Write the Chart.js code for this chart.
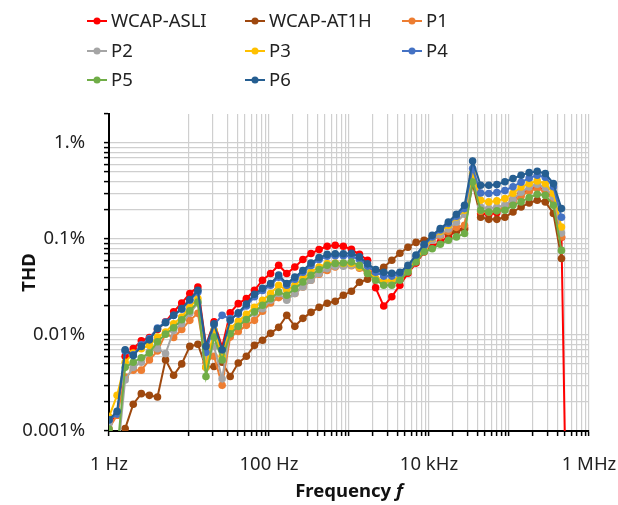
<!DOCTYPE html>
<html>
<head>
<meta charset="utf-8">
<script src="https://cdn.jsdelivr.net/npm/chart.js@4.4.1/dist/chart.umd.min.js"></script>
<style>
  html, body { margin: 0; padding: 0; background: #fff; }
  #wrap { width: 618px; height: 505px; position: relative; }
</style>
</head>
<body>
<div id="wrap"><canvas id="thdChart"></canvas></div>
<script>
// Measurement frequencies (Hz)
const freqs = [1, 1.262, 1.592, 2.009, 2.535, 3.199, 4.036, 5.093, 6.427, 8.110,
  10.23, 12.91, 16.29, 20.56, 25.94, 32.73, 41.30, 52.12, 65.77, 82.99,
  104.7, 132.1, 166.7, 210.4, 265.5, 335.0, 422.7, 533.3, 673.0, 849.2,
  1072, 1352, 1706, 2153, 2716, 3428, 4325, 5458, 6887, 8690,
  10965, 13836, 17458, 22029, 27797, 35075, 44259, 55847, 70469, 88920,
  112202, 141579, 178649, 225424, 284446, 358922, 452898, 571479];

// THD values in %
const wcapAsli = [0.00123, 0.00146, 0.0060, 0.0072, 0.0087, 0.0094, 0.0114, 0.0137, 0.0174, 0.0215,
  0.027, 0.0316, 0.0078, 0.0137, 0.0075, 0.0170, 0.0212, 0.0239, 0.0292, 0.0372,
  0.0436, 0.0532, 0.0436, 0.0511, 0.061, 0.0705, 0.0776, 0.0839, 0.086, 0.084,
  0.078, 0.069, 0.060, 0.031, 0.020, 0.025, 0.033, 0.044, 0.056, 0.073,
  0.083, 0.093, 0.105, 0.123, 0.131, 0.425, 0.184, 0.18, 0.187, 0.214,
  0.257, 0.297, 0.322, 0.348, 0.322, 0.257, 0.104, 0.000001];
const wcapAt1h = [0.0004, 0.0006, 0.00106, 0.0019, 0.00245, 0.00235, 0.00226, 0.0055, 0.0038, 0.0050,
  0.0076, 0.0080, 0.0046, 0.0047, 0.0052, 0.0037, 0.0051, 0.006, 0.0078, 0.0088,
  0.0104, 0.012, 0.016, 0.0123, 0.0149, 0.0172, 0.0194, 0.0214, 0.0224, 0.0259,
  0.0285, 0.0354, 0.038, 0.045, 0.0507, 0.060, 0.071, 0.082, 0.092, 0.097,
  0.104, 0.109, 0.115, 0.12, 0.126, 0.38, 0.168, 0.16, 0.16, 0.168,
  0.191, 0.215, 0.237, 0.253, 0.243, 0.184, 0.0625];
const p1 = [0.00106, 0.00146, 0.00365, 0.0043, 0.0043, 0.0055, 0.0068, 0.0103, 0.0094, 0.0114,
  0.0142, 0.0168, 0.0052, 0.006, 0.003, 0.0095, 0.0109, 0.0126, 0.0142, 0.0177,
  0.0215, 0.0245, 0.0239, 0.027, 0.0316, 0.0372, 0.0429, 0.047, 0.0511, 0.0532,
  0.0525, 0.0495, 0.044, 0.038, 0.0354, 0.0358, 0.039, 0.046, 0.060, 0.0763,
  0.097, 0.107, 0.12, 0.132, 0.139, 0.46, 0.194, 0.19, 0.199, 0.214,
  0.241, 0.279, 0.314, 0.337, 0.314, 0.253, 0.105];
const p2 = [0.0012, 0.0005, 0.0034, 0.0046, 0.0052, 0.0067, 0.0072, 0.0064, 0.0111, 0.0131,
  0.0168, 0.0215, 0.0059, 0.0076, 0.0035, 0.0111, 0.0129, 0.0148, 0.0169, 0.0188,
  0.023, 0.027, 0.023, 0.027, 0.0316, 0.0372, 0.0436, 0.0491, 0.0519, 0.0519,
  0.0532, 0.0507, 0.045, 0.0386, 0.0358, 0.036, 0.039, 0.046, 0.059, 0.0763,
  0.097, 0.111, 0.127, 0.149, 0.181, 0.45, 0.215, 0.207, 0.215, 0.224,
  0.259, 0.306, 0.348, 0.372, 0.343, 0.274, 0.115];
const p3 = [0.0014, 0.00235, 0.0052, 0.0065, 0.0072, 0.0078, 0.0095, 0.0107, 0.0131, 0.0154,
  0.0196, 0.0239, 0.0046, 0.0112, 0.0060, 0.0117, 0.0139, 0.0164, 0.0194, 0.023,
  0.027, 0.033, 0.0292, 0.033, 0.0386, 0.0453, 0.0511, 0.0554, 0.0562, 0.0554,
  0.0554, 0.0511, 0.0453, 0.0386, 0.0365, 0.0372, 0.040, 0.047, 0.060, 0.079,
  0.103, 0.12, 0.139, 0.169, 0.199, 0.48, 0.253, 0.243, 0.249, 0.263,
  0.299, 0.348, 0.377, 0.402, 0.377, 0.297, 0.133];
const p4 = [0.0013, 0.0015, 0.0068, 0.0062, 0.0079, 0.0092, 0.0118, 0.0136, 0.0160, 0.0185,
  0.023, 0.028, 0.0066, 0.0128, 0.016, 0.0148, 0.0165, 0.020, 0.025, 0.029,
  0.033, 0.040, 0.033, 0.038, 0.045, 0.053, 0.061, 0.066, 0.067, 0.067,
  0.066, 0.061, 0.052, 0.045, 0.041, 0.041, 0.043, 0.051, 0.066, 0.085,
  0.105, 0.124, 0.145, 0.172, 0.207, 0.54, 0.301, 0.297, 0.305, 0.32,
  0.35, 0.39, 0.43, 0.46, 0.44, 0.35, 0.168];
const p5 = [0.00105, 0.0006, 0.0046, 0.0052, 0.0058, 0.0065, 0.0085, 0.0102, 0.0119, 0.0144,
  0.0178, 0.022, 0.0037, 0.0095, 0.0055, 0.0103, 0.0123, 0.0145, 0.0174, 0.0204,
  0.0239, 0.028, 0.0259, 0.0304, 0.0357, 0.0419, 0.048, 0.0532, 0.0554, 0.0562,
  0.0576, 0.0532, 0.0436, 0.0372, 0.033, 0.033, 0.0372, 0.0453, 0.0576, 0.0735,
  0.079, 0.088, 0.097, 0.105, 0.114, 0.392, 0.199, 0.191, 0.196, 0.199,
  0.224, 0.243, 0.27, 0.292, 0.285, 0.224, 0.076];
const p6 = [0.00131, 0.0016, 0.0070, 0.0061, 0.0076, 0.0089, 0.0116, 0.0134, 0.016, 0.0188,
  0.0234, 0.0292, 0.0076, 0.0131, 0.0070, 0.0142, 0.017, 0.021, 0.0265, 0.0306,
  0.0343, 0.042, 0.0343, 0.040, 0.047, 0.056, 0.064, 0.069, 0.070, 0.070,
  0.071, 0.065, 0.055, 0.048, 0.045, 0.044, 0.045, 0.053, 0.068, 0.088,
  0.109, 0.128, 0.15, 0.181, 0.224, 0.649, 0.362, 0.362, 0.368, 0.394,
  0.425, 0.46, 0.49, 0.507, 0.48, 0.377, 0.207];

const seriesNames = ['WCAP-ASLI', 'WCAP-AT1H', 'P1', 'P2', 'P3', 'P4', 'P5', 'P6'];
const seriesValues = [wcapAsli, wcapAt1h, p1, p2, p3, p4, p5, p6];
const seriesColors = ['#ff0000', '#9e480e', '#ed7d31', '#a5a5a5', '#ffc000', '#4472c4', '#70ad47', '#255e91'];

// labelled ticks
const xTickValues = [1, 100, 10000, 1000000];
const xTickLabels = ['1 Hz', '100 Hz', '10 kHz', '1 MHz'];
const yTickValues = [0.001, 0.01, 0.1, 1];
const yTickLabels = ['0.001%', '0.01%', '0.1%', '1.%'];

const FONT = "'Noto Sans', 'DejaVu Sans', sans-serif";

function sameLog(a, b) {
    return Math.abs(Math.log10(a) - Math.log10(b)) < 1e-6;
}

function labelFor(v, values, labels) {
    const i = values.findIndex(t => sameLog(t, v));
    return i >= 0 ? labels[i] : '';
}

// gridline positions: 1..9 x 10^e
function logSteps(fromExp, toExp) {
    const out = [];
    for (let e = fromExp; e <= toExp; e++) {
        for (let d = 1; d <= 9; d++) {
            out.push(parseFloat((d * Math.pow(10, e)).toPrecision(6)));
        }
    }
    return out;
}

const xGrid = [1].concat(logSteps(1, 5), [1000000]);
const yGrid = logSteps(-3, -1).concat([1, 2]);

// custom legend (3 columns) and axis titles
const decorPlugin = {
    id: 'decor',
    afterDraw(chart) {
        const ctx = chart.ctx;
        const colX = [87, 245, 402];
        const rowY = [21, 51, 80];
        ctx.save();
        chart.data.datasets.forEach((ds, i) => {
            const x = colX[i % 3];
            const y = rowY[Math.floor(i / 3)];
            ctx.strokeStyle = ds.borderColor;
            ctx.lineWidth = 2;
            ctx.beginPath();
            ctx.moveTo(x, y);
            ctx.lineTo(x + 20, y);
            ctx.stroke();
            ctx.fillStyle = ds.borderColor;
            ctx.beginPath();
            ctx.arc(x + 10, y, 3.5, 0, Math.PI * 2);
            ctx.fill();
            ctx.fillStyle = '#222';
            ctx.font = '18.5px ' + FONT;
            ctx.textBaseline = 'middle';
            ctx.textAlign = 'left';
            ctx.fillText(ds.label, x + 24, y + 1);
        });

        const area = chart.chartArea;
        // y title
        ctx.save();
        ctx.translate(30, (area.top + area.bottom) / 2);
        ctx.rotate(-Math.PI / 2);
        ctx.font = 'bold 18.5px ' + FONT;
        ctx.fillStyle = '#111';
        ctx.textAlign = 'center';
        ctx.textBaseline = 'middle';
        ctx.fillText('THD', 0, 0);
        ctx.restore();

        // x title with italic f
        const cx = (area.left + area.right) / 2;
        const ty = 492;
        ctx.font = 'bold 18.5px ' + FONT;
        const w1 = ctx.measureText('Frequency ').width;
        ctx.font = 'italic bold 18.5px ' + FONT;
        const w2 = ctx.measureText('f').width;
        const sx = cx - (w1 + w2) / 2;
        ctx.fillStyle = '#111';
        ctx.textAlign = 'left';
        ctx.textBaseline = 'middle';
        ctx.font = 'bold 18.5px ' + FONT;
        ctx.fillText('Frequency ', sx, ty);
        ctx.font = 'italic bold 18.5px ' + FONT;
        ctx.fillText('f', sx + w1, ty);
        ctx.restore();
    }
};

const datasets = seriesNames.map((name, i) => ({
    label: name,
    data: seriesValues[i].map((v, k) => ({ x: freqs[k], y: v })),
    borderColor: seriesColors[i],
    backgroundColor: seriesColors[i],
    borderWidth: 2,
    pointRadius: 3.8,
    pointBorderWidth: 0,
    pointHoverRadius: 3.8,
    tension: 0,
    order: seriesNames.length - i
}));

new Chart(document.getElementById('thdChart'), {
    type: 'line',
    data: { datasets: datasets },
    options: {
        responsive: true,
        maintainAspectRatio: false,
        animation: false,
        layout: { padding: { top: 114, right: 29, left: 0, bottom: 0 } },
        plugins: {
            legend: { display: false },
            tooltip: { enabled: false }
        },
        scales: {
            x: {
                type: 'logarithmic',
                min: 1,
                max: 1000000,
                afterBuildTicks: s => { s.ticks = xGrid.map(v => ({ value: v })); },
                afterFit: s => {
                    s.height = 74;
                    s.paddingLeft = 0;
                    s.paddingRight = 0;
                },
                ticks: {
                    autoSkip: false,
                    maxRotation: 0,
                    minRotation: 0,
                    padding: 18,
                    color: '#222',
                    font: { family: FONT, size: 18.5 },
                    callback: v => labelFor(v, xTickValues, xTickLabels)
                },
                grid: {
                    color: c => {
                        if (!c.tick) return '#cfcfcf';
                        const v = c.tick.value;
                        if (sameLog(v, 1)) return 'rgba(0,0,0,0)';
                        if (v > 1 && v < 10) return 'rgba(0,0,0,0)';
                        return '#cfcfcf';
                    },
                    tickColor: c => {
                        const v = c.tick ? c.tick.value : 0;
                        return (v > 1.5 && v < 10) ? 'rgba(0,0,0,0)' : '#000';
                    },
                    lineWidth: 1.2,
                    tickLength: 5,
                    tickWidth: 1.5
                },
                border: { color: '#000', width: 2 }
            },
            y: {
                type: 'logarithmic',
                min: 0.001,
                max: 2,
                afterBuildTicks: s => { s.ticks = yGrid.map(v => ({ value: v })); },
                afterFit: s => {
                    s.width = 109;
                    s.paddingTop = 0;
                    s.paddingBottom = 0;
                },
                ticks: {
                    autoSkip: false,
                    padding: 19,
                    color: '#222',
                    font: { family: FONT, size: 18.5 },
                    callback: v => labelFor(v, yTickValues, yTickLabels)
                },
                grid: {
                    color: c => (c.tick && (sameLog(c.tick.value, 2) || sameLog(c.tick.value, 0.001))) ? 'rgba(0,0,0,0)' : '#cfcfcf',
                    lineWidth: 1.2,
                    tickLength: 5,
                    tickColor: '#000',
                    tickWidth: 1.5
                },
                border: { color: '#000', width: 2 }
            }
        }
    },
    plugins: [decorPlugin]
});
</script>
</body>
</html>
